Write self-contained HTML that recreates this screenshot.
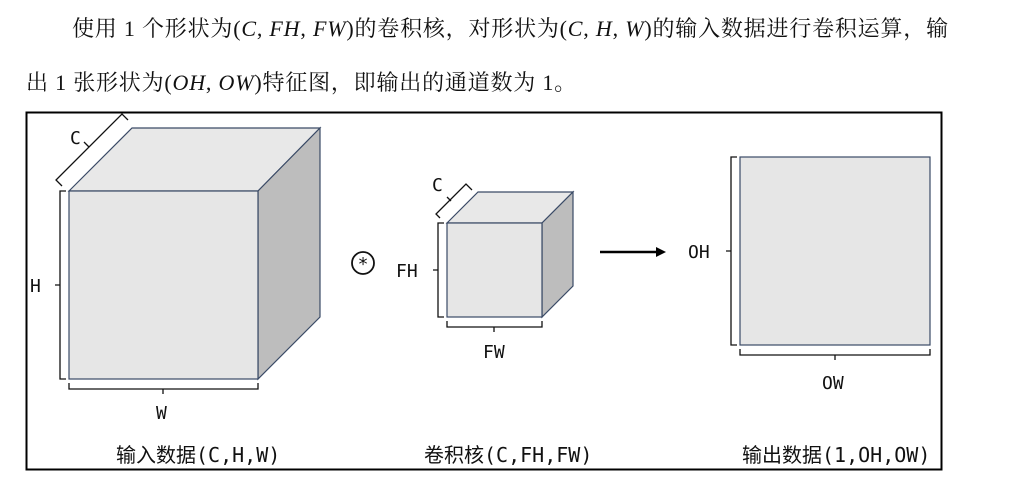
<!DOCTYPE html>
<html><head><meta charset="utf-8"><style>
html,body{margin:0;padding:0;background:#fff;width:1024px;height:487px;overflow:hidden}
.t{position:absolute;font-family:"Liberation Serif","Noto Serif CJK SC",serif;font-size:22px;letter-spacing:0.8px;color:#111;white-space:nowrap}
i{font-family:"Liberation Serif",serif}
svg{position:absolute;left:0;top:0}
</style></head><body>
<div class="t" style="left:72px;top:12px">使用 1 个形状为(<i>C</i>, <i>FH</i>, <i>FW</i>)的卷积核，对形状为(<i>C</i>, <i>H</i>, <i>W</i>)的输入数据进行卷积运算，输</div>
<div class="t" style="left:26px;top:66px">出 1 张形状为(<i>OH</i>, <i>OW</i>)特征图，即输出的通道数为 1。</div>
<svg width="1024" height="487" font-family="DejaVu Sans Mono, Liberation Mono, monospace" font-size="18" fill="#111">
<rect x="26.5" y="112.5" width="915" height="357" fill="none" stroke="#000" stroke-width="2"/>
<g stroke="#3a4a66" stroke-width="1.2">
<polygon points="69,191 132,128 320,128 258,191" fill="#e8e8e8"/>
<polygon points="258,191 320,128 320,317 258,379" fill="#bdbdbd"/>
<rect x="69" y="191" width="189" height="188" fill="#e6e6e6"/>
<polygon points="447,223 478,192 573,192 542,223" fill="#e8e8e8"/>
<polygon points="542,223 573,192 573,286 542,317" fill="#bdbdbd"/>
<rect x="447" y="223" width="95" height="94" fill="#e6e6e6"/>
<rect x="740" y="157" width="190" height="188" fill="#e6e6e6"/>
</g>
<g fill="none" stroke="#111" stroke-width="1.3">
<path d="M66,191 H60 V379 H66 M60,285 H55"/>
<path d="M69,383 V389 H258 V383 M163,389 V394"/>
<path d="M62,186 L56,180 L122,114 L128,120 M89,147 L84,142"/>
<path d="M444,223 H438 V317 H444 M438,270 H433"/>
<path d="M447,321 V327 H542 V321 M494,327 V332"/>
<path d="M440,218 L436,214 L466,184 L472,190 M451,201 L447,197"/>
<path d="M737,157 H731 V345 H737 M731,251 H726"/>
<path d="M740,349 V355 H930 V349 M835,355 V360"/>
<circle cx="363" cy="263" r="11" stroke-width="1.8"/>
</g>
<text x="363" y="270" text-anchor="middle" font-size="18">*</text>
<path d="M600,252 H657" stroke="#000" stroke-width="2.5"/>
<polygon points="666,252 656,247 656,257" fill="#000"/>
<text x="30" y="292">H</text>
<text x="156" y="419">W</text>
<text x="70" y="144">C</text>
<text x="396" y="277">FH</text>
<text x="483" y="358">FW</text>
<text x="432" y="191">C</text>
<text x="688" y="258">OH</text>
<text x="822" y="389">OW</text>
<g font-size="20" font-family="DejaVu Sans Mono, Noto Sans CJK SC, monospace">
<text x="116" y="462">输入数据(C,H,W)</text>
<text x="424" y="462">卷积核(C,FH,FW)</text>
<text x="742" y="462">输出数据(1,OH,OW)</text>
</g>
</svg>
</body></html>
